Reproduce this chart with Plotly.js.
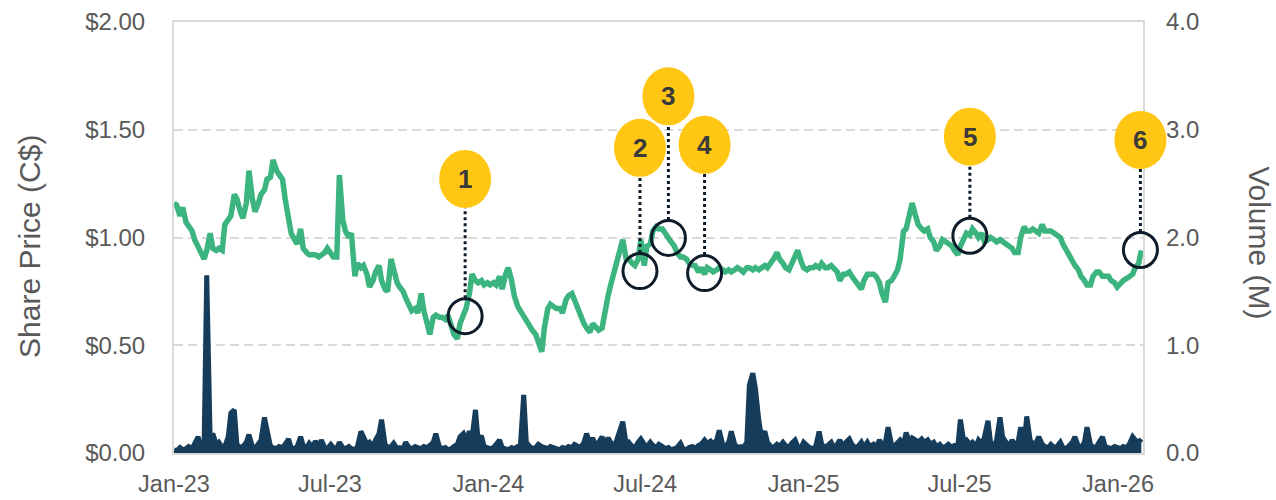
<!DOCTYPE html>
<html>
<head>
<meta charset="utf-8">
<script src="https://cdn.plot.ly/plotly-3.0.1.min.js"></script>
<style>html,body{margin:0;padding:0;background:#fff;}#chart{width:1276px;height:500px;}</style>
</head>
<body>
<div id="chart"></div>
<script>
// ---------- DATA ----------
// Samples twice a week (Mon/Thu) starting 2023-01-01
const sampleStart = '2023-01-01';

const sharePrice = [
1.16,1.15,1.10,1.14,1.07,1.05,1.03,0.99,0.96,0.93,
0.90,0.94,1.02,0.95,0.94,0.95,0.94,1.06,1.08,1.10,
1.20,1.18,1.12,1.09,1.16,1.31,1.18,1.12,1.16,1.20,
1.22,1.27,1.28,1.36,1.31,1.29,1.27,1.18,1.08,1.02,
0.99,0.97,1.04,0.95,0.93,0.92,0.92,0.92,0.91,0.92,
0.93,0.95,0.92,0.91,0.91,1.29,1.08,1.03,1.00,1.02,
0.82,0.88,0.86,0.87,0.83,0.77,0.80,0.84,0.87,0.80,
0.76,0.75,0.90,0.84,0.79,0.77,0.75,0.72,0.68,0.66,
0.67,0.65,0.74,0.66,0.60,0.55,0.63,0.64,0.63,0.63,
0.62,0.64,0.59,0.55,0.53,0.60,0.64,0.67,0.74,0.83,
0.80,0.79,0.80,0.78,0.79,0.78,0.79,0.78,0.82,0.76,
0.83,0.86,0.80,0.73,0.68,0.66,0.63,0.61,0.58,0.57,
0.55,0.52,0.47,0.58,0.67,0.69,0.68,0.67,0.67,0.65,
0.71,0.73,0.74,0.71,0.67,0.63,0.60,0.58,0.56,0.60,
0.58,0.57,0.58,0.66,0.73,0.78,0.84,0.88,0.96,0.99,
0.90,0.90,0.88,0.87,0.90,0.99,0.87,0.96,0.97,1.03,
1.05,1.04,1.04,1.02,0.99,0.98,0.96,0.93,0.91,0.91,
0.90,0.88,0.87,0.87,0.84,0.86,0.83,0.86,0.85,0.84,
0.85,0.86,0.85,0.84,0.85,0.84,0.85,0.86,0.85,0.84,
0.86,0.86,0.85,0.86,0.85,0.86,0.87,0.86,0.88,0.90,
0.93,0.90,0.88,0.86,0.85,0.88,0.91,0.94,0.89,0.86,
0.85,0.86,0.86,0.87,0.86,0.88,0.86,0.86,0.87,0.86,
0.84,0.80,0.83,0.83,0.84,0.82,0.80,0.79,0.76,0.80,
0.83,0.83,0.83,0.82,0.79,0.74,0.70,0.79,0.80,0.82,
0.85,0.90,1.03,1.04,1.12,1.16,1.10,1.06,1.04,1.03,
1.04,1.00,0.98,0.94,0.96,0.99,0.98,0.97,0.96,0.94,
0.92,0.96,1.00,1.02,1.01,1.04,1.02,1.00,1.02,0.98,
0.99,1.00,0.99,0.98,0.99,0.98,0.97,0.96,0.95,0.93,
0.93,1.00,1.05,1.03,1.03,1.04,1.03,1.02,1.06,1.03,
1.03,1.03,1.02,1.01,1.00,0.97,0.94,0.92,0.90,0.87,
0.85,0.82,0.80,0.78,0.78,0.82,0.84,0.84,0.82,0.82,
0.82,0.80,0.79,0.77,0.79,0.80,0.81,0.82,0.83,0.86,
0.88,0.94
];

const volumeM = [
0.03,0.02,0.05,0.03,0.04,0.06,0.04,0.08,0.15,0.06,
0.10,1.65,0.12,0.18,0.08,0.10,0.05,0.06,0.15,0.37,
0.40,0.08,0.05,0.06,0.10,0.17,0.06,0.04,0.08,0.12,
0.33,0.20,0.06,0.05,0.04,0.06,0.05,0.08,0.13,0.05,
0.04,0.06,0.15,0.07,0.05,0.09,0.05,0.11,0.06,0.12,
0.05,0.04,0.08,0.05,0.04,0.10,0.05,0.04,0.06,0.04,
0.03,0.06,0.20,0.15,0.08,0.10,0.06,0.12,0.18,0.31,
0.08,0.05,0.06,0.09,0.04,0.05,0.04,0.10,0.05,0.04,
0.06,0.05,0.04,0.06,0.05,0.07,0.10,0.18,0.06,0.04,
0.05,0.03,0.04,0.06,0.08,0.15,0.18,0.12,0.20,0.14,
0.40,0.12,0.16,0.06,0.05,0.04,0.05,0.08,0.12,0.05,
0.04,0.03,0.05,0.04,0.06,0.05,0.54,0.10,0.06,0.04,
0.05,0.08,0.06,0.05,0.04,0.06,0.05,0.04,0.03,0.05,
0.04,0.06,0.05,0.08,0.06,0.05,0.10,0.18,0.08,0.14,
0.06,0.10,0.15,0.08,0.14,0.10,0.06,0.12,0.20,0.29,
0.08,0.10,0.06,0.05,0.10,0.13,0.08,0.06,0.10,0.07,
0.05,0.08,0.06,0.04,0.05,0.03,0.04,0.05,0.09,0.04,
0.03,0.05,0.06,0.04,0.07,0.08,0.12,0.09,0.11,0.08,
0.12,0.21,0.08,0.06,0.10,0.20,0.08,0.05,0.06,0.05,
0.10,0.63,0.74,0.60,0.30,0.15,0.20,0.10,0.06,0.05,
0.08,0.06,0.10,0.07,0.05,0.09,0.12,0.06,0.05,0.10,
0.07,0.05,0.04,0.06,0.20,0.08,0.05,0.07,0.10,0.05,
0.08,0.12,0.06,0.10,0.13,0.08,0.05,0.06,0.10,0.05,
0.10,0.06,0.08,0.05,0.12,0.08,0.10,0.24,0.08,0.06,
0.10,0.12,0.08,0.19,0.10,0.14,0.12,0.10,0.13,0.10,
0.12,0.08,0.10,0.06,0.08,0.05,0.06,0.08,0.05,0.07,
0.06,0.31,0.10,0.12,0.08,0.10,0.06,0.12,0.08,0.15,
0.30,0.10,0.06,0.12,0.33,0.15,0.10,0.06,0.12,0.08,
0.10,0.24,0.08,0.34,0.12,0.08,0.10,0.15,0.08,0.06,
0.05,0.08,0.05,0.06,0.10,0.05,0.04,0.06,0.10,0.15,
0.06,0.05,0.10,0.24,0.08,0.05,0.06,0.10,0.15,0.06,
0.05,0.04,0.06,0.05,0.04,0.06,0.05,0.08,0.15,0.12,
0.10,0.13
];

const tickDates  = ['2023-01-01','2023-07-01','2024-01-01','2024-07-01','2025-01-01','2025-07-01','2026-01-01'];
const tickLabels = ['Jan-23','Jul-23','Jan-24','Jul-24','Jan-25','Jul-25','Jan-26'];

const eventLabels = ['1','2','3','4','5','6'];
const eventDates  = ['2023-12-05','2024-06-25','2024-07-28','2024-09-08','2025-07-13','2026-01-27'];
const eventPrices = [0.635,0.844,0.998,0.835,1.008,0.942];

// ---------- LAYOUT SETTINGS ----------
const calloutLevel = [1.272,1.416,1.655,1.430,1.468,1.453]; // callout bubble centres (price units)
const xRange = ['2023-01-01', '2026-01-30'];
const yRange = [0, 2];
const plotH = 431;
const ringR = 17, bubbleRX = 26, bubbleRY = 29;

function sampleDates(n){
  const t0 = Date.parse(sampleStart + 'T00:00:00Z');
  const out = [];
  for (let i = 0; i < n; i++) out.push(new Date(t0 + Math.floor(3.5*i)*864e5).toISOString().slice(0,10));
  return out;
}
const dates = sampleDates(sharePrice.length);

// data -> paper fractions (so callouts are not clipped by the plot area)
const tA = Date.parse(xRange[0] + 'T00:00:00Z'), tB = Date.parse(xRange[1] + 'T00:00:00Z');
const px = d => (Date.parse(d + 'T00:00:00Z') - tA) / (tB - tA);
const py = v => (v - yRange[0]) / (yRange[1] - yRange[0]);
const pixToPaperY = p => p / plotH;

const green = '#3CB47F', navy = '#153D5B', yellow = '#FFC714', ring = '#0E1B29', grey = '#595959';
const font = 'Liberation Sans, Arial, sans-serif';

const traces = [
  { x: dates, y: volumeM, yaxis: 'y2', type: 'scatter', mode: 'lines',
    line: {color: navy, width: 5}, fill: 'tozeroy', fillcolor: navy, hoverinfo: 'skip' },
  { x: dates, y: sharePrice, yaxis: 'y', type: 'scatter', mode: 'lines',
    line: {color: green, width: 5.5}, hoverinfo: 'skip' }
];

const shapes = [];
const annotations = [];
eventLabels.forEach((lab, k) => {
  const xp = px(eventDates[k]), yp = py(eventPrices[k]), lp = py(calloutLevel[k]);
  shapes.push({ type: 'line', xref: 'paper', yref: 'paper', x0: xp, x1: xp,
    y0: yp + pixToPaperY(ringR + 1), y1: lp - pixToPaperY(bubbleRY),
    line: {color: ring, width: 3, dash: 'dot'}, layer: 'above' });
  shapes.push({ type: 'circle', xref: 'paper', yref: 'paper', xsizemode: 'pixel', ysizemode: 'pixel',
    xanchor: xp, yanchor: yp, x0: -ringR, x1: ringR, y0: -ringR - 0.5, y1: ringR + 0.5,
    line: {color: ring, width: 3}, fillcolor: 'rgba(0,0,0,0)', layer: 'above' });
  shapes.push({ type: 'circle', xref: 'paper', yref: 'paper', xsizemode: 'pixel', ysizemode: 'pixel',
    xanchor: xp, yanchor: lp, x0: -bubbleRX, x1: bubbleRX, y0: -bubbleRY, y1: bubbleRY,
    line: {width: 0}, fillcolor: yellow, layer: 'above' });
  annotations.push({ xref: 'paper', yref: 'paper', x: xp, y: lp, text: '<b>' + lab + '</b>', showarrow: false,
    xanchor: 'center', yanchor: 'middle', font: {family: font, size: 26, color: '#3A3A3A'} });
});

annotations.push({ xref: 'paper', yref: 'paper', x: -0.1486, y: 0.478, text: 'Share Price (C$)',
  textangle: -90, showarrow: false, xanchor: 'center', yanchor: 'middle',
  font: {family: font, size: 30, color: grey} });
annotations.push({ xref: 'paper', yref: 'paper', x: 1.1207, y: 0.487, text: 'Volume (M)',
  textangle: 90, showarrow: false, xanchor: 'center', yanchor: 'middle',
  font: {family: font, size: 30, color: grey} });

const layout = {
  width: 1276, height: 500,
  margin: {l: 174, r: 133, t: 22, b: 47, pad: 0},
  paper_bgcolor: '#fff', plot_bgcolor: '#fff',
  showlegend: false,
  font: {family: font, color: grey},
  xaxis: {
    type: 'date', range: xRange,
    tickvals: tickDates, ticktext: tickLabels,
    tickfont: {family: font, size: 23.5, color: grey},
    showgrid: false, zeroline: false,
    showline: true, linecolor: '#D9D9D9', linewidth: 2, mirror: true,
    ticks: '', ticklabelstandoff: 9
  },
  yaxis: {
    range: yRange, tickvals: [0, 0.5, 1, 1.5, 2], tickformat: '$.2f',
    tickfont: {family: font, size: 24, color: grey},
    showgrid: true, gridcolor: '#D9D9D9', gridwidth: 2, griddash: '9px,5px',
    zeroline: false, showline: true, linecolor: '#D9D9D9', linewidth: 2, mirror: true,
    ticks: '', ticklabelstandoff: 22
  },
  yaxis2: {
    overlaying: 'y', side: 'right', range: [0, 4], tickvals: [0, 1, 2, 3, 4], tickformat: '.1f',
    tickfont: {family: font, size: 24, color: grey},
    showgrid: false, zeroline: false, showline: false,
    ticks: '', ticklabelstandoff: 22
  },
  shapes: shapes,
  annotations: annotations
};

Plotly.newPlot('chart', traces, layout, {staticPlot: true, displayModeBar: false});
</script>
</body>
</html>
